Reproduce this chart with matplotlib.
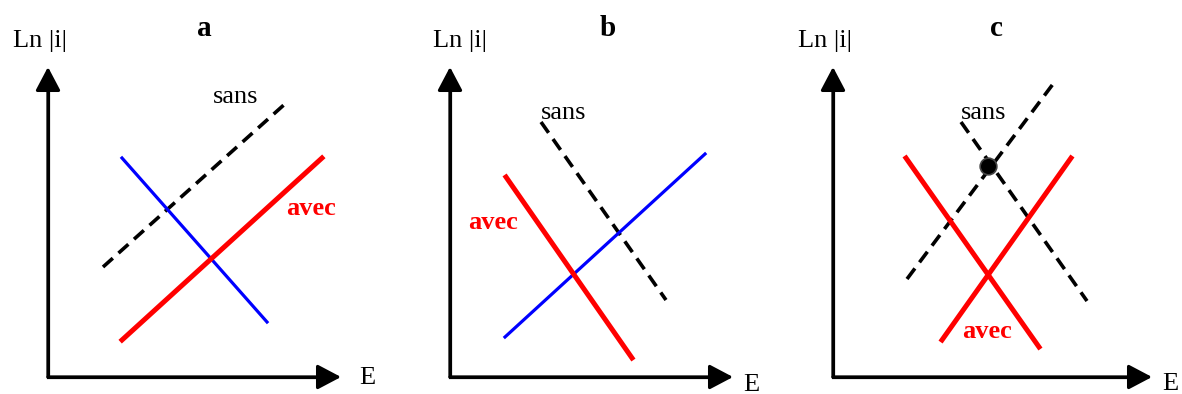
import matplotlib
matplotlib.use("Agg")
import matplotlib.pyplot as plt

plt.rcParams.update({
    "font.family": ["Liberation Serif", "DejaVu Serif"],
    "lines.scale_dashes": False,
})

RED = "#FF0000"
BLUE = "#0000FF"
BLACK = "#000000"

# ── Data (figure pixel space, y pointing down) ───────────────────────────────
PANELS = ["a", "b", "c"]
origin_x = [48, 450, 833]
origin_y = [377, 377, 377]
yaxis_top = [67, 67, 67]
xaxis_end = [341, 733, 1152]
title_x = [204, 608, 996]
ylabel_x = [40, 460, 825]
elabel_x = [359, 743, 1162]
elabel_y = [384, 391, 390]

# panel a
a_blue_x, a_blue_y = [122, 267], [158, 322]
a_red_x, a_red_y = [122, 322], [340, 158]
a_sans_x, a_sans_y = [103, 286], [267, 103]

# panel b
b_blue_x, b_blue_y = [505, 705], [337, 154]
b_red_x, b_red_y = [506, 632], [177, 358]
b_sans_x, b_sans_y = [541, 666], [122, 300]

# panel c
c_red1_x, c_red1_y = [906, 1039], [158, 347]
c_red2_x, c_red2_y = [942, 1071], [340, 158]
c_sans1_x, c_sans1_y = [907, 1053], [279, 84]
c_sans2_x, c_sans2_y = [961, 1087], [122, 301]
c_dot = (988, 166)

# label positions (left, baseline)
sans_lbl = [(213, 103), (541, 119), (961, 119)]
avec_lbl = [(286, 215), (468, 229), (962, 338)]

# ── Figure ───────────────────────────────────────────────────────────────────
fig = plt.figure(figsize=(11.82, 3.94), dpi=100)
ax = fig.add_axes([0, 0, 1, 1])
ax.set_xlim(0, 1182)
ax.set_ylim(394, 0)
ax.axis("off")

FS = 19
AX_LW = 2.3

for i, p in enumerate(PANELS):
    ox, oy = origin_x[i], origin_y[i]
    ax.plot([ox, ox, xaxis_end[i] - 15], [yaxis_top[i] + 15, oy, oy],
            color=BLACK, lw=AX_LW, solid_joinstyle="miter",
            solid_capstyle="butt")
    head = dict(arrowstyle="-|>,head_length=0.72,head_width=0.38",
                mutation_scale=20, lw=AX_LW, color=BLACK,
                shrinkA=0, shrinkB=0)
    ax.annotate("", xy=(ox, yaxis_top[i]), xytext=(ox, oy), arrowprops=head)
    ax.annotate("", xy=(xaxis_end[i], oy), xytext=(ox, oy), arrowprops=head)
    ax.text(ylabel_x[i], 47, "Ln |i|", fontsize=FS, ha="center",
            va="baseline")
    ax.text(title_x[i], 36, p, fontsize=21, fontweight="bold",
            ha="center", va="baseline")
    ax.text(elabel_x[i], elabel_y[i], "E", fontsize=FS, ha="left",
            va="baseline")

dash = (0, (9.5, 5.5))
THIN = 2.3
THICK = 3.6

# a
ax.plot(a_sans_x, a_sans_y, color=BLACK, lw=2.6, linestyle=dash)
ax.plot(a_blue_x, a_blue_y, color=BLUE, lw=THIN)
ax.plot(a_red_x, a_red_y, color=RED, lw=THICK)

# b
ax.plot(b_sans_x, b_sans_y, color=BLACK, lw=2.6, linestyle=dash)
ax.plot(b_blue_x, b_blue_y, color=BLUE, lw=THIN)
ax.plot(b_red_x, b_red_y, color=RED, lw=THICK)

# c
ax.plot(c_sans1_x, c_sans1_y, color=BLACK, lw=2.6, linestyle=dash)
ax.plot(c_sans2_x, c_sans2_y, color=BLACK, lw=2.6, linestyle=dash)
ax.plot(c_red1_x, c_red1_y, color=RED, lw=THICK)
ax.plot(c_red2_x, c_red2_y, color=RED, lw=THICK)
ax.plot([c_dot[0]], [c_dot[1]], marker="o", markersize=12,
        markerfacecolor=BLACK, markeredgecolor="#444444", markeredgewidth=1.2)

for (x, y) in sans_lbl:
    ax.text(x, y, "sans", fontsize=FS, color=BLACK, ha="left", va="baseline")
for (x, y) in avec_lbl:
    ax.text(x, y, "avec", fontsize=FS, color=RED, fontweight="bold",
            ha="left", va="baseline")

fig.savefig("out.png", dpi=100)
